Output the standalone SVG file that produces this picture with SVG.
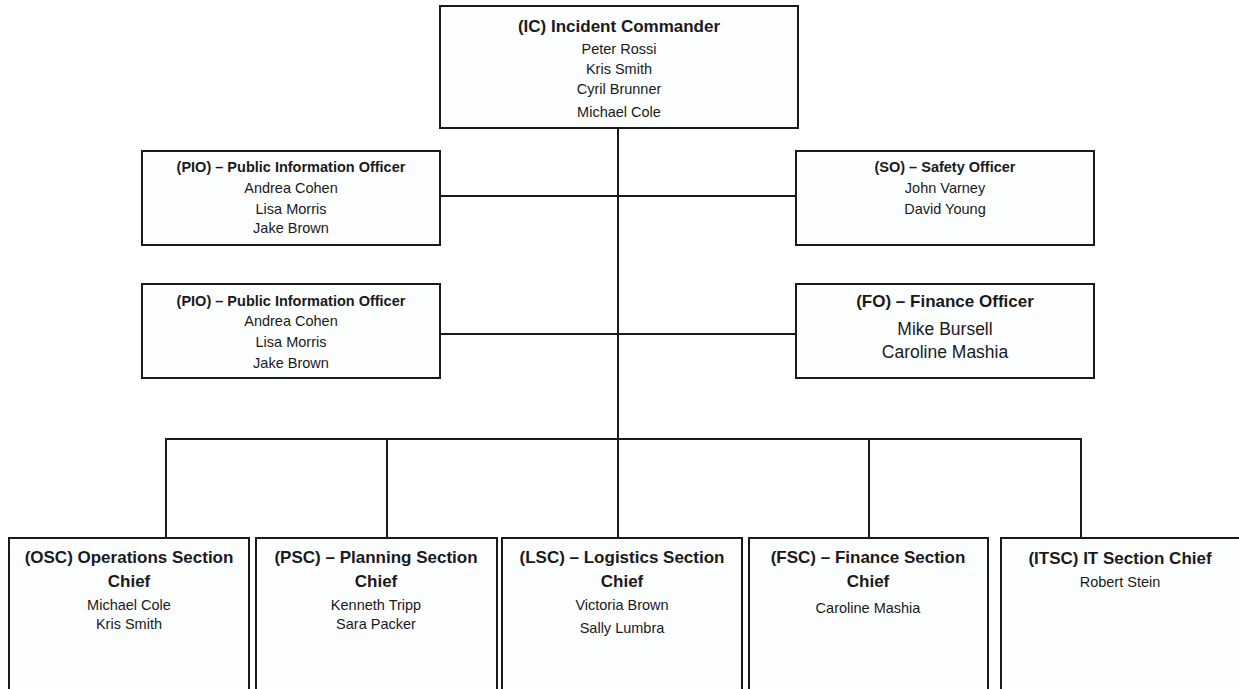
<svg xmlns="http://www.w3.org/2000/svg" width="1239" height="689" viewBox="0 0 1239 689">
<style>
.box{fill:#fdfeff;stroke:#1a1a1a;stroke-width:2}
.con{stroke:#1a1a1a;stroke-width:2;fill:none}
text{font-family:"Liberation Sans",Arial,sans-serif;fill:#1a1a1a;text-anchor:middle}
.t1{font-size:17px;font-weight:bold}
.t2{font-size:14.5px;font-weight:bold}
.n1{font-size:14.5px}
.n2{font-size:17.5px}
</style>
<rect width="1239" height="689" fill="#ffffff"/>
<g id="connectors">
<line class="con" x1="618" y1="128" x2="618" y2="538"/>
<line class="con" x1="441" y1="196" x2="796" y2="196"/>
<line class="con" x1="441" y1="334" x2="796" y2="334"/>
<polyline class="con" points="166,538 166,439 1081,439 1081,538"/>
<line class="con" x1="387" y1="439" x2="387" y2="538"/>
<line class="con" x1="869" y1="439" x2="869" y2="538"/>
</g>
<g id="ic">
<rect class="box" x="440" y="6" width="358" height="122"/>
<text class="t1" x="619" y="32">(IC) Incident Commander</text>
<text class="n1" x="619" y="54">Peter Rossi</text>
<text class="n1" x="619" y="74">Kris Smith</text>
<text class="n1" x="619" y="94">Cyril Brunner</text>
<text class="n1" x="619" y="117">Michael Cole</text>
</g>
<g id="pio1">
<rect class="box" x="142" y="151" width="298" height="94"/>
<text class="t2" x="291" y="172">(PIO) – Public Information Officer</text>
<text class="n1" x="291" y="193">Andrea Cohen</text>
<text class="n1" x="291" y="214">Lisa Morris</text>
<text class="n1" x="291" y="233">Jake Brown</text>
</g>
<g id="so">
<rect class="box" x="796" y="151" width="298" height="94"/>
<text class="t2" x="945" y="172">(SO) – Safety Officer</text>
<text class="n1" x="945" y="193">John Varney</text>
<text class="n1" x="945" y="214">David Young</text>
</g>
<g id="pio2">
<rect class="box" x="142" y="284" width="298" height="94"/>
<text class="t2" x="291" y="306">(PIO) – Public Information Officer</text>
<text class="n1" x="291" y="326">Andrea Cohen</text>
<text class="n1" x="291" y="347">Lisa Morris</text>
<text class="n1" x="291" y="368">Jake Brown</text>
</g>
<g id="fo">
<rect class="box" x="796" y="284" width="298" height="94"/>
<text class="t1" x="945" y="307">(FO) – Finance Officer</text>
<text class="n2" x="945" y="335">Mike Bursell</text>
<text class="n2" x="945" y="358">Caroline Mashia</text>
</g>
<g id="osc">
<rect class="box" x="9" y="538" width="240" height="170"/>
<text class="t1" x="129" y="563">(OSC) Operations Section</text>
<text class="t1" x="129" y="587">Chief</text>
<text class="n1" x="129" y="610">Michael Cole</text>
<text class="n1" x="129" y="629">Kris Smith</text>
</g>
<g id="psc">
<rect class="box" x="256" y="538" width="241" height="170"/>
<text class="t1" x="376" y="563">(PSC) – Planning Section</text>
<text class="t1" x="376" y="587">Chief</text>
<text class="n1" x="376" y="610">Kenneth Tripp</text>
<text class="n1" x="376" y="629">Sara Packer</text>
</g>
<g id="lsc">
<rect class="box" x="502" y="538" width="240" height="170"/>
<text class="t1" x="622" y="563">(LSC) – Logistics Section</text>
<text class="t1" x="622" y="587">Chief</text>
<text class="n1" x="622" y="610">Victoria Brown</text>
<text class="n1" x="622" y="633">Sally Lumbra</text>
</g>
<g id="fsc">
<rect class="box" x="749" y="538" width="239" height="170"/>
<text class="t1" x="868" y="563">(FSC) – Finance Section</text>
<text class="t1" x="868" y="587">Chief</text>
<text class="n1" x="868" y="613">Caroline Mashia</text>
</g>
<g id="itsc">
<rect class="box" x="1001" y="538" width="240" height="170"/>
<text class="t1" x="1120" y="564">(ITSC) IT Section Chief</text>
<text class="n1" x="1120" y="587">Robert Stein</text>
</g>
</svg>
